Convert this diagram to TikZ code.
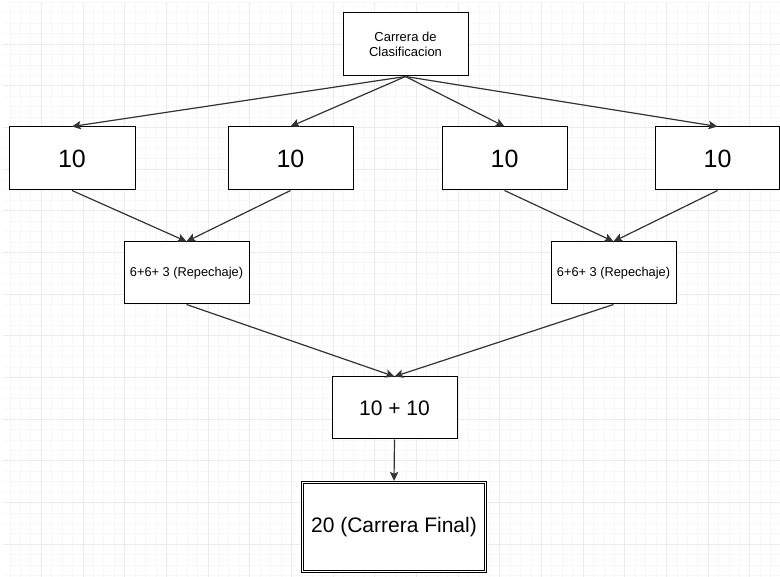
\documentclass[tikz,border=0pt]{standalone}
\usepackage{fontspec}
\setmainfont{Liberation Sans}
\usetikzlibrary{arrows.meta}

\begin{document}
\begin{tikzpicture}[x=1pt,y=-1pt,
   caja/.style={draw=black,fill=white,line width=1pt,inner sep=2pt,align=center},
   flecha/.style={draw=black!80,line width=1.2pt,-{Stealth[length=9pt,width=8.5pt,inset=2pt]}}]
 \useasboundingbox [fill=white] (0,0) rectangle (780,577);

% grid
 \foreach \k in {0,...,75} \draw [black!3,line width=0.6pt] (-0.5+\k*10.42,3)--(-0.5+\k*10.42,577);
 \foreach \k in {0,...,55} \draw [black!3,line width=0.6pt] (3,2.3+\k*10.42)--(780,2.3+\k*10.42);
 \foreach \k in {1,...,18} \draw [black!8,line width=0.6pt] (-0.5+\k*41.67,3)--(-0.5+\k*41.67,577);
 \foreach \k in {1,...,13} \draw [black!8,line width=0.6pt] (3,2.3+\k*41.67)--(780,2.3+\k*41.67);

% boxes
 \node [caja,minimum width=125pt,minimum height=63pt,font=\fontsize{13}{15}\selectfont] (clasif) at (405.5,44.5) {Carrera de\\Clasificacion};

 \node [caja,minimum width=126pt,minimum height=63pt,font=\fontsize{25}{28}\selectfont] (g1) at (72,158.5) {10};
 \node [caja,minimum width=125pt,minimum height=63pt,font=\fontsize{25}{28}\selectfont] (g2) at (290.5,158.5) {10};
 \node [caja,minimum width=125pt,minimum height=63pt,font=\fontsize{25}{28}\selectfont] (g3) at (504.5,158.5) {10};
 \node [caja,minimum width=124pt,minimum height=63pt,font=\fontsize{25}{28}\selectfont] (g4) at (717.5,158.5) {10};

 \node [caja,minimum width=125pt,minimum height=62pt,font=\fontsize{12.8}{15}\selectfont] (rep1) at (186.5,273) {6+6+ 3 (Repechaje)};
 \node [caja,minimum width=125pt,minimum height=62pt,font=\fontsize{12.8}{15}\selectfont] (rep2) at (613.5,273) {6+6+ 3 (Repechaje)};

 \node [caja,minimum width=125pt,minimum height=62pt,font=\fontsize{21}{24}\selectfont] (suma) at (394.5,408) {10 + 10};

 \node [caja,line width=1.3pt,minimum width=185pt,minimum height=91pt,font=\fontsize{21}{24}\selectfont] (final) at (394,527) {20 (Carrera Final)};
 \draw [line width=0.9pt] ([xshift=3pt,yshift=-3pt]final.north west) rectangle ([xshift=-3pt,yshift=3pt]final.south east);

% connectors
 \draw [flecha] (clasif.south)--(g1.north);
 \draw [flecha] (clasif.south)--(g2.north);
 \draw [flecha] (clasif.south)--(g3.north);
 \draw [flecha] (clasif.south)--(g4.north);

 \draw [flecha] (g1.south)--(rep1.north);
 \draw [flecha] (g2.south)--(rep1.north);
 \draw [flecha] (g3.south)--(rep2.north);
 \draw [flecha] (g4.south)--(rep2.north);

 \draw [flecha] (rep1.south)--(suma.north);
 \draw [flecha] (rep2.south)--(suma.north);

 \draw [flecha] (suma.south)--(final.north);

\end{tikzpicture}
\end{document}
